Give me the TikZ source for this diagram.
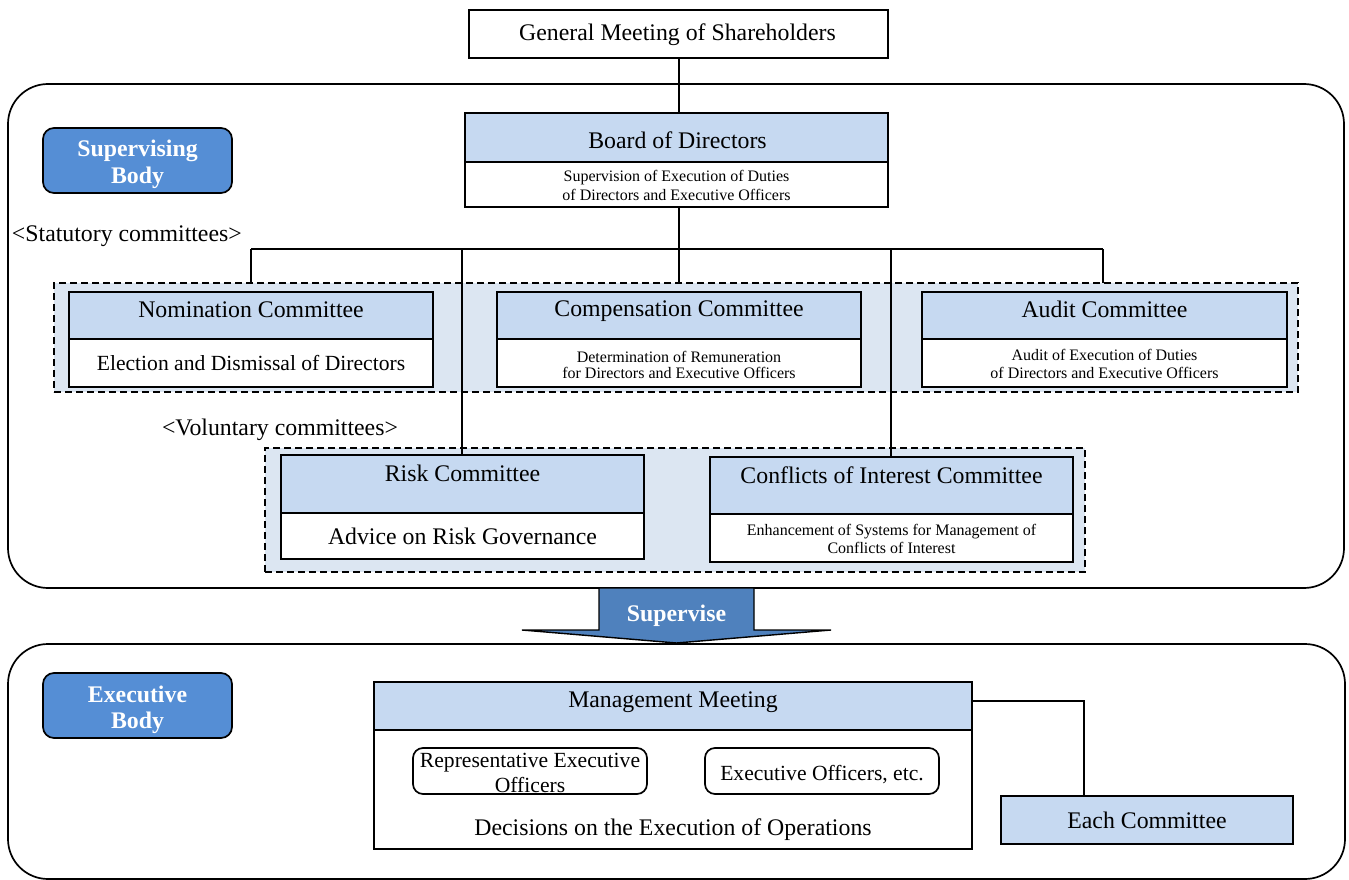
\documentclass[tikz,border=0pt]{standalone}
\usepackage{fontspec}
\setmainfont{Liberation Serif}
\definecolor{hdrblue}{HTML}{C6D9F1}
\definecolor{grpblue}{HTML}{DCE6F2}
\definecolor{labblue}{HTML}{558ED5}
\definecolor{arrblue}{HTML}{4F81BD}
\tikzset{
  box/.style={draw, line width=1.7pt, inner sep=0pt, outer sep=0pt, anchor=north west},
  hdr/.style={box, fill=hdrblue},
  wbox/.style={box, fill=white},
  rbox/.style={box, fill=white, rounded corners=10pt},
  bodylab/.style={box, fill=labblue, rounded corners=11pt},
  grp/.style={box, fill=grpblue, dash pattern=on 7pt off 4pt, line width=1.5pt},
  panel/.style={box, fill=white, rounded corners=40pt},
  big/.style={font=\fontsize{23.8}{27}\selectfont},
  med/.style={font=\fontsize{21.6}{24}\selectfont},
  small/.style={font=\fontsize{16}{19}\selectfont},
  boldlab/.style={font=\fontsize{23.8}{27}\selectfont\bfseries, text=white},
  txt/.style={inner sep=0pt, outer sep=0pt, anchor=base},
  conn/.style={line width=1.6pt},
}
\begin{document}
\begin{tikzpicture}[x=1pt, y=-1pt]
\useasboundingbox (0,0) rectangle (1349,880);
\fill[white] (0,0) rectangle (1349,880);
% panels
\node[panel, minimum width=1336pt, minimum height=504pt] (toppanel) at (8,84) {};
\node[panel, minimum width=1337pt, minimum height=235pt] (botpanel) at (8,644) {};
% groups
\node[grp, minimum width=1244pt, minimum height=109pt] (stat) at (54,283) {};
\node[grp, minimum width=820pt, minimum height=124pt] (vol) at (265,448) {};
% body labels
\node[bodylab, minimum width=189pt, minimum height=65pt] (supbody) at (43,128) {};
\node[bodylab, minimum width=189pt, minimum height=65pt] (exebody) at (43,673) {};
% boxes
\node[wbox, minimum width=419pt, minimum height=48pt] (gm) at (469,10) {};
\node[hdr, minimum width=423pt, minimum height=49pt] (bodh) at (465,113) {};
\node[wbox, minimum width=423pt, minimum height=45pt] (bodb) at (465,162) {};
% connectors
\coordinate (hl) at (251,249);
\coordinate (hr) at (1103,249);
\coordinate (vc) at (679,249);
\coordinate (v1) at (462,249);
\coordinate (v2) at (891,249);
\draw[conn] (vc |- gm.south) -- (vc |- bodh.north);
\draw[conn] (hl) -- (hr);
\draw[conn] (hl) -- (hl |- stat.north);
\draw[conn] (hr) -- (hr |- stat.north);
\draw[conn] (vc |- bodb.south) -- (vc |- stat.north);
% committee boxes
\node[hdr, minimum width=364pt, minimum height=47pt] (nomh) at (69,292) {};
\node[wbox, minimum width=364pt, minimum height=48pt] (nomb) at (69,339) {};
\node[hdr, minimum width=364pt, minimum height=47pt] (comh) at (497,292) {};
\node[wbox, minimum width=364pt, minimum height=48pt] (comb) at (497,339) {};
\node[hdr, minimum width=365pt, minimum height=47pt] (audh) at (922,292) {};
\node[wbox, minimum width=365pt, minimum height=48pt] (audb) at (922,339) {};
\node[hdr, minimum width=363pt, minimum height=58pt] (riskh) at (281,455) {};
\node[wbox, minimum width=363pt, minimum height=46pt] (riskb) at (281,513) {};
\node[hdr, minimum width=363pt, minimum height=57pt] (confh) at (710,457) {};
\node[wbox, minimum width=363pt, minimum height=48pt] (confb) at (710,514) {};
\draw[conn] (v1) -- (v1 |- riskh.north);
\draw[conn] (v2) -- (v2 |- confh.north);
% supervise arrow
\draw[fill=arrblue, line width=1.4pt, line join=miter] (599,588) -- (599,630) -- (522,630) -- (676.5,643) -- (831,630) -- (754,630) -- (754,588) -- cycle;
% executive
\node[hdr, minimum width=598pt, minimum height=48pt] (mgh) at (374,682) {};
\node[wbox, minimum width=598pt, minimum height=119pt] (mgb) at (374,730) {};
\node[rbox, minimum width=234pt, minimum height=46pt] (rep) at (413,748) {};
\node[rbox, minimum width=234pt, minimum height=46pt] (exo) at (705,748) {};
\node[hdr, minimum width=292pt, minimum height=48pt] (each) at (1001,796) {};
\coordinate (mc) at (1084,701);
\draw[conn] (mc -| mgh.east) -- (mc) -- (mc |- each.north);
% texts
\node[txt, big] (t1) at (677.5,41) {General Meeting of Shareholders};
\node[txt, big] (t2) at (677.5,149) {Board of Directors};
\node[txt, small] (t3) at (676.5,182) {Supervision of Execution of Duties};
\node[txt, small] (t4) at (676.5,200) {of Directors and Executive Officers};
\node[txt, big, anchor=base west] (t5) at (12,241) {<Statutory committees>};
\node[txt, big] (t6) at (251,317) {Nomination Committee};
\node[txt, med] (t7) at (251,370) {Election and Dismissal of Directors};
\node[txt, big] (t8) at (679,316) {Compensation Committee};
\node[txt, small] (t9) at (679,362) {Determination of Remuneration};
\node[txt, small] (t10) at (679,378) {for Directors and Executive Officers};
\node[txt, big] (t11) at (1104.5,317) {Audit Committee};
\node[txt, small] (t12) at (1104.5,360) {Audit of Execution of Duties};
\node[txt, small] (t13) at (1104.5,378) {of Directors and Executive Officers};
\node[txt, big, anchor=base west] (t14) at (162,435) {<Voluntary committees>};
\node[txt, big] (t15) at (462.5,481) {Risk Committee};
\node[txt, big] (t16) at (462.5,544) {Advice on Risk Governance};
\node[txt, big] (t17) at (891.5,483) {Conflicts of Interest Committee};
\node[txt, small] (t18) at (891.5,535) {Enhancement of Systems for Management of};
\node[txt, small] (t19) at (891.5,553) {Conflicts of Interest};
\node[txt, boldlab] (t20) at (676.5,621) {Supervise};
\node[txt, boldlab] (t21) at (137.5,157) {Supervising};
\node[txt, boldlab] (t22) at (137.5,183) {Body};
\node[txt, boldlab] (t23) at (137.5,702) {Executive};
\node[txt, boldlab] (t24) at (137.5,728) {Body};
\node[txt, big] (t25) at (673,707) {Management Meeting};
\node[txt, med] (t26) at (530,767) {Representative Executive};
\node[txt, med] (t27) at (530,792) {Officers};
\node[txt, med] (t28) at (822,780) {Executive Officers, etc.};
\node[txt, big] (t29) at (673,835) {Decisions on the Execution of Operations};
\node[txt, big] (t30) at (1147,828) {Each Committee};
\end{tikzpicture}
\end{document}
